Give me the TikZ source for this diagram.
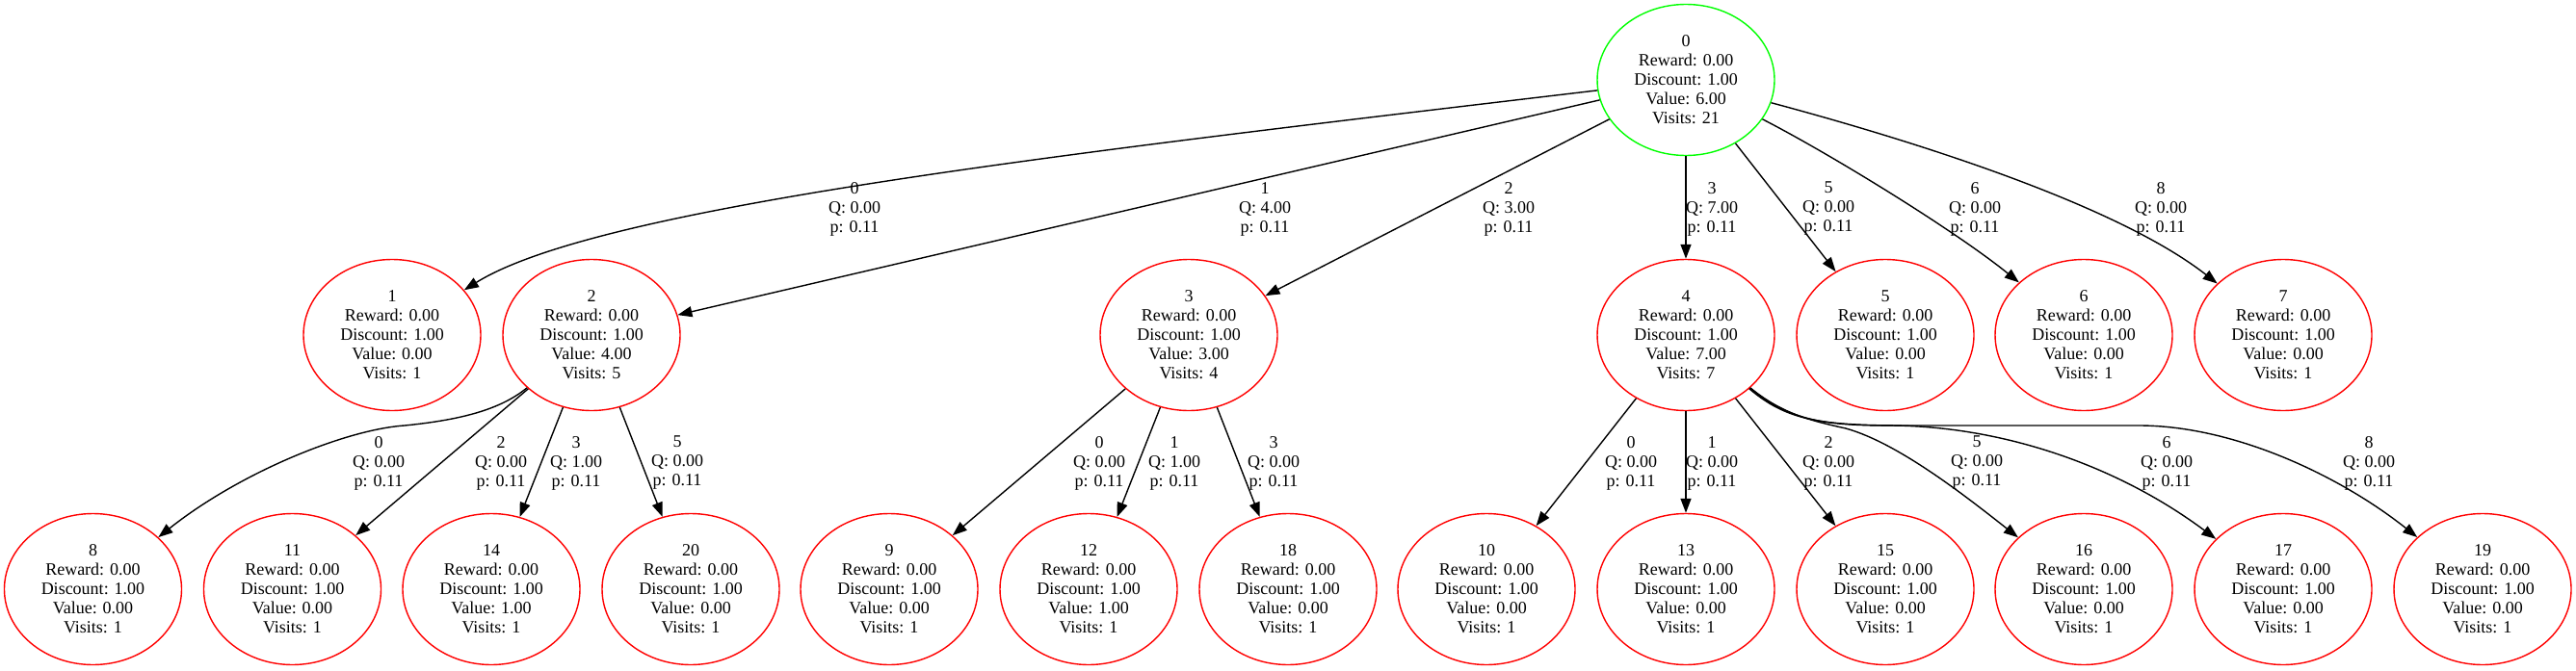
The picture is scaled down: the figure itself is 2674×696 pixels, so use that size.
\documentclass[tikz,border=0pt]{standalone}
\usepackage{fontspec}
\setmainfont{Liberation Serif}
\usetikzlibrary{arrows.meta,shapes.geometric}
\begin{document}
\begin{tikzpicture}[x=1pt,y=-1pt,
  every node/.style={font=\fontsize{18}{20}\selectfont, align=center, inner sep=0pt},
  st/.style={draw=red, ellipse, line width=1.4pt, minimum width=184pt, minimum height=157pt},
  root/.style={st, draw=green},
  edge/.style={draw, line width=1.4pt, -{Triangle[length=15pt,width=11pt]}},
  lab/.style={}]
\useasboundingbox (0,0) rectangle (2674,696);
% root
\node[root] (n0) at (1750,83) {0\\Reward: 0.00\\Discount: 1.00\\Value: 6.00\\Visits: 21};
% middle row
\node[st] (n1) at (407,348) {1\\Reward: 0.00\\Discount: 1.00\\Value: 0.00\\Visits: 1};
\node[st] (n2) at (614,348) {2\\Reward: 0.00\\Discount: 1.00\\Value: 4.00\\Visits: 5};
\node[st] (n3) at (1234,348) {3\\Reward: 0.00\\Discount: 1.00\\Value: 3.00\\Visits: 4};
\node[st] (n4) at (1750,348) {4\\Reward: 0.00\\Discount: 1.00\\Value: 7.00\\Visits: 7};
\node[st] (n5) at (1957,348) {5\\Reward: 0.00\\Discount: 1.00\\Value: 0.00\\Visits: 1};
\node[st] (n6) at (2163,348) {6\\Reward: 0.00\\Discount: 1.00\\Value: 0.00\\Visits: 1};
\node[st] (n7) at (2370,348) {7\\Reward: 0.00\\Discount: 1.00\\Value: 0.00\\Visits: 1};
% bottom row
\node[st] (n8) at (96.5,612) {8\\Reward: 0.00\\Discount: 1.00\\Value: 0.00\\Visits: 1};
\node[st] (n11) at (303.5,612) {11\\Reward: 0.00\\Discount: 1.00\\Value: 0.00\\Visits: 1};
\node[st] (n14) at (510,612) {14\\Reward: 0.00\\Discount: 1.00\\Value: 1.00\\Visits: 1};
\node[st] (n20) at (717,612) {20\\Reward: 0.00\\Discount: 1.00\\Value: 0.00\\Visits: 1};
\node[st] (n9) at (923,612) {9\\Reward: 0.00\\Discount: 1.00\\Value: 0.00\\Visits: 1};
\node[st] (n12) at (1130,612) {12\\Reward: 0.00\\Discount: 1.00\\Value: 1.00\\Visits: 1};
\node[st] (n18) at (1337,612) {18\\Reward: 0.00\\Discount: 1.00\\Value: 0.00\\Visits: 1};
\node[st] (n10) at (1543,612) {10\\Reward: 0.00\\Discount: 1.00\\Value: 0.00\\Visits: 1};
\node[st] (n13) at (1750,612) {13\\Reward: 0.00\\Discount: 1.00\\Value: 0.00\\Visits: 1};
\node[st] (n15) at (1957,612) {15\\Reward: 0.00\\Discount: 1.00\\Value: 0.00\\Visits: 1};
\node[st] (n16) at (2163,612) {16\\Reward: 0.00\\Discount: 1.00\\Value: 0.00\\Visits: 1};
\node[st] (n17) at (2370,612) {17\\Reward: 0.00\\Discount: 1.00\\Value: 0.00\\Visits: 1};
\node[st] (n19) at (2577,612) {19\\Reward: 0.00\\Discount: 1.00\\Value: 0.00\\Visits: 1};
% edges from root
\draw[edge] (n0) .. controls (1100,160) and (620,215) .. (n1);
\draw[edge] (n0) -- (n2);
\draw[edge] (n0) -- (n3);
\draw[edge] (n0) -- (n4);
\draw[edge] (n0) -- (n5);
\draw[edge] (n0) .. controls (1900,160) and (2030,240) .. (n6);
\draw[edge] (n0) .. controls (2000,150) and (2200,215) .. (n7);
% edges from 2
\draw[edge] (n2) .. controls (520,425) and (480,436) .. (420,442) .. controls (360,446) and (250,490) .. (n8);
\draw[edge] (n2) -- (n11);
\draw[edge] (n2) -- (n14);
\draw[edge] (n2) -- (n20);
% edges from 3
\draw[edge] (n3) -- (n9);
\draw[edge] (n3) -- (n12);
\draw[edge] (n3) -- (n18);
% edges from 4
\draw[edge] (n4) -- (n10);
\draw[edge] (n4) -- (n13);
\draw[edge] (n4) -- (n15);
\draw[edge] (n4) .. controls (1850,430) and (1880,437) .. (1916,445) .. controls (1970,460) and (2040,515) .. (n16);
\draw[edge] (n4) .. controls (1855,435) and (1890,442) .. (1960,442) .. controls (2080,442) and (2200,485) .. (n17);
\draw[edge] (n4) .. controls (1855,437) and (1890,442) .. (1980,442) -- (2220,442) .. controls (2320,442) and (2430,495) .. (n19);
% edge labels, top
\node[lab] (l01) at (887,217) {0\\Q: 0.00\\p: 0.11};
\node[lab] (l02) at (1313,217) {1\\Q: 4.00\\p: 0.11};
\node[lab] (l03) at (1566,217) {2\\Q: 3.00\\p: 0.11};
\node[lab] (l04) at (1777,217) {3\\Q: 7.00\\p: 0.11};
\node[lab] (l05) at (1898,217) {5\\Q: 0.00\\p: 0.11};
\node[lab] (l06) at (2050,217) {6\\Q: 0.00\\p: 0.11};
\node[lab] (l07) at (2243,217) {8\\Q: 0.00\\p: 0.11};
% edge labels, middle
\node[lab] (l28) at (393,481) {0\\Q: 0.00\\p: 0.11};
\node[lab] (l211) at (520,481) {2\\Q: 0.00\\p: 0.11};
\node[lab] (l214) at (598,481) {3\\Q: 1.00\\p: 0.11};
\node[lab] (l220) at (703,481) {5\\Q: 0.00\\p: 0.11};
\node[lab] (l39) at (1141,481) {0\\Q: 0.00\\p: 0.11};
\node[lab] (l312) at (1219,481) {1\\Q: 1.00\\p: 0.11};
\node[lab] (l318) at (1322,481) {3\\Q: 0.00\\p: 0.11};
\node[lab] (l410) at (1693,481) {0\\Q: 0.00\\p: 0.11};
\node[lab] (l413) at (1777,481) {1\\Q: 0.00\\p: 0.11};
\node[lab] (l415) at (1898,481) {2\\Q: 0.00\\p: 0.11};
\node[lab] (l416) at (2052,481) {5\\Q: 0.00\\p: 0.11};
\node[lab] (l417) at (2249,481) {6\\Q: 0.00\\p: 0.11};
\node[lab] (l419) at (2459,481) {8\\Q: 0.00\\p: 0.11};
\end{tikzpicture}
\end{document}
